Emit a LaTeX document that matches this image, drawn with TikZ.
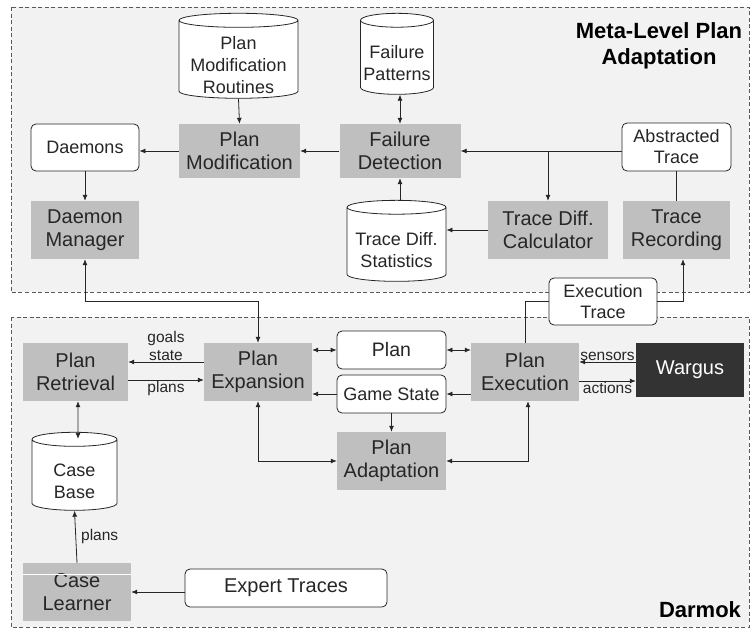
\documentclass[tikz,border=0pt]{standalone}
\usepackage{fontspec}
\setmainfont{Liberation Sans}
\usetikzlibrary{arrows.meta, shapes.geometric}
\definecolor{boxgray}{HTML}{BFBFBF}
\definecolor{areagray}{HTML}{F2F2F2}
\definecolor{darkbox}{HTML}{333333}
\definecolor{ink}{HTML}{262626}

\begin{document}
\begin{tikzpicture}[x=1pt, y=-1pt,
		every node/.style={text=ink, align=center, inner sep=1pt},
		proc/.style={fill=boxgray, minimum width=108pt, minimum height=58pt, font=\fontsize{20}{23}\selectfont},
		term/.style={draw=ink, line width=0.8pt, fill=white, rounded corners=5pt, minimum width=108pt, font=\fontsize{18}{21}\selectfont},
		store/.style={draw=ink, line width=0.8pt, fill=white, cylinder, shape border rotate=90, inner sep=0pt,
			label={[font=\fontsize{18}{22}\selectfont, yshift=-6pt]center:#1}},
		lbl/.style={font=\fontsize{15.5}{18}\selectfont},
		title/.style={font=\fontsize{22}{26}\selectfont\bfseries, text=black},
		flow/.style={draw=ink, line width=0.8pt, -{Latex[length=6pt,width=5pt]}},
		twoway/.style={draw=ink, line width=0.8pt, {Latex[length=6pt,width=5pt]}-{Latex[length=6pt,width=5pt]}},
		area/.style={draw=black!65, line width=0.8pt, dash pattern=on 4pt off 2.5pt, fill=areagray}]
	\useasboundingbox (0,0) rectangle (751,629);

	% the two areas
	\draw[area] (11,7) rectangle (749,292);
	\draw[area] (11,317) rectangle (749,627);
	\node[title] (meta) at (659,46) {Meta-Level Plan\\Adaptation};
	\node[title] (darmok) at (700,610) {Darmok};

	% meta-level
	\node[store={Plan\\Modification\\Routines}, minimum height=85pt, aspect=0.118] (pmr) at (238.5,59.5) {\rule{119pt}{0pt}};
	\node[store={Failure\\Patterns}, minimum height=81pt, aspect=0.19] (fpat) at (397,57.5) {\rule{73pt}{0pt}};
	\node[term, minimum height=47pt] (daem) at (85,147.5) {Daemons};
	\node[proc, minimum width=121pt, minimum height=54pt] (pmod) at (239.5,151) {Plan\\Modification};
	\node[proc, minimum width=121pt, minimum height=54pt] (fdet) at (400,151) {Failure\\Detection};
	\node[term, minimum width=109pt, minimum height=48pt] (abs) at (676.5,147) {Abstracted\\Trace};
	\node[proc] (dman) at (85,230) {Daemon\\Manager};
	\node[store={Trace Diff.\\Statistics}, minimum height=81pt, aspect=0.14] (tds) at (396.5,244.5) {\rule{99pt}{0pt}};
	\node[proc, minimum width=120pt] (tdc) at (548,230) {Trace Diff.\\Calculator};
	\node[proc, minimum width=107pt] (trec) at (676.5,230) {Trace\\Recording};

	% darmok
	\node[term, minimum height=47pt] (etr) at (603,301.5) {Execution\\Trace};
	\node[proc, minimum width=105pt] (pret) at (75.5,372) {Plan\\Retrieval};
	\node[proc] (pexp) at (258,372) {Plan\\Expansion};
	\node[term, minimum width=109pt, minimum height=38pt, font=\fontsize{19.5}{22}\selectfont] (plan) at (391.5,350) {Plan};
	\node[term, minimum width=109pt, minimum height=38pt] (gst) at (391.5,394) {Game State};
	\node[proc] (pexec) at (525,372) {Plan\\Execution};
	\node[proc, fill=darkbox, text=white, minimum height=54pt] (warg) at (690,370) {Wargus};
	\node[proc, minimum width=109pt] (padapt) at (391.5,461) {Plan\\Adaptation};
	\node[store={Case\\Base}, minimum height=78pt, aspect=0.165] (cbase) at (74.5,475) {\rule{85pt}{0pt}};
	\node[proc] (clearn) at (77,592) {Case\\Learner};
	\node[term, minimum width=202pt, minimum height=38pt, font=\fontsize{20}{23}\selectfont] (expt) at (286,588) {Expert Traces};
	\draw[white, line width=1pt] ([yshift=-12pt]clearn.north west) -- ([yshift=-12pt]clearn.north east);

	% meta-level connectors
	\draw[flow] (pmr.south) -- (pmod.north);
	\draw[twoway] (fpat.south -| fdet.north) -- (fdet.north);
	\draw[flow] (fdet.west) -- (pmod.east);
	\draw[flow] (pmod.west) -- (pmod.west -| daem.east);
	\draw[flow] (daem) -- (dman);
	\draw[flow] (abs.west |- fdet) -- (fdet.east);
	\draw[flow] (tdc.north |- fdet) -- (tdc.north);
	\draw[flow] (tdc.west) -- (tdc.west -| tds.east);
	\draw[flow] (tds.north -| fdet.south) -- (fdet.south);
	\draw[draw=ink, line width=0.8pt] (abs.south) -- (trec.north);

	% between the areas
	\draw[twoway] (dman.south) -- ++(0,42) -| (pexp.north);
	\draw[draw=ink, line width=0.8pt] (pexec.north) |- (etr.west);
	\draw[flow] (etr.east) -| ([xshift=6.5pt]trec.south);

	% darmok connectors
	\draw[flow] ([yshift=10pt]pexp.west) -- ([yshift=10pt]pret.east) node[lbl, midway, above] {goals\\state};
	\draw[flow] ([yshift=-8pt]pret.east) -- ([yshift=-8pt]pexp.west) node[lbl, midway, below] {plans};
	\draw[twoway] (pexp.east |- plan) -- (plan.west);
	\draw[twoway] (plan.east) -- (plan -| pexec.west);
	\draw[flow] (gst -| pexec.west) -- (gst.east);
	\draw[flow] (gst.west) -- (gst -| pexp.east);
	\draw[flow] (gst) -- (padapt);
	\draw[twoway] (pexp.south) |- (padapt.west);
	\draw[twoway] ([xshift=3pt]pexec.south) |- (padapt.east);
	\draw[flow] ([yshift=8pt]warg.west) -- ([yshift=8pt]warg.west -| pexec.east) node[lbl, midway, above] {sensors};
	\draw[flow] ([yshift=-11pt]warg.west -| pexec.east) -- ([yshift=-11pt]warg.west) node[lbl, midway, below] {actions};
	\draw[twoway] ([xshift=2.5pt]pret.south) -- ([xshift=3.5pt,yshift=-7pt]cbase.north);
	\draw[flow] (clearn.north) -- (cbase.south) node[lbl, midway, right, xshift=4pt] {plans};
	\draw[flow] (expt.west |- clearn) -- (clearn.east);
\end{tikzpicture}
\end{document}
